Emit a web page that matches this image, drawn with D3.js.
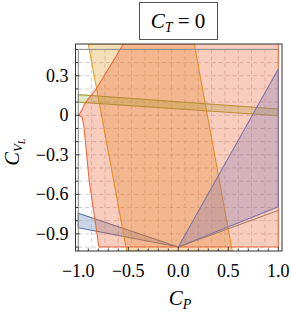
<!DOCTYPE html>
<html>
<head>
<meta charset="utf-8">
<script src="https://cdn.jsdelivr.net/npm/d3@7"></script>
<style>
body { margin: 0; background: #fff; }
</style>
</head>
<body>
<div class="region-graph"></div>
<script>
// regions in (C_P, C_VL) coordinates
var blueRegion   = [[-1, -0.744], [0, -1], [-1, -0.853]];
var orangeRegion = [[-0.9, 0.541], [0.16, 0.541], [0.54, -1.03], [-0.516, -1.03]];
var greenRegion  = [[-1, 0.157], [1, 0.048], [1, -0.003], [-1, 0.100]];
var redRegion    = [[-0.533, 0.56], [-0.816, 0.205], [-0.933, 0.091], [-0.96, 0.045],
                    [-0.997, 0.0], [-0.962, -0.015], [-0.945, -0.074], [-0.89, -0.504],
                    [-0.793, -1.0], [1, -1], [1, 0.56]];
var purpleRegion = [[0, -1], [1, 0.352], [1, -0.694]];
var brownEdge    = [[0, -1], [1, -0.722]];

var xTicks = [-1, -0.5, 0, 0.5, 1];
var xTickLabels = ["\u22121.0", "\u22120.5", "0.0", "0.5", "1.0"];
var yTicks = [-0.9, -0.6, -0.3, 0, 0.3];
var yTickLabels = ["\u22120.9", "\u22120.6", "\u22120.3", "0", "0.3"];

var W = 291, H = 314;
var serif = "'Liberation Serif', 'DejaVu Serif', serif";
var frame = {left: 75.5, right: 282, top: 44, bottom: 251};

var svg = d3.select(".region-graph").append("svg")
    .attr("width", W)
    .attr("height", H)
    .attr("font-family", serif);

var x = d3.scaleLinear().domain([-1.028, 1.037]).range([frame.left, frame.right]);
var y = d3.scaleLinear().domain([-1.03, 0.541]).range([frame.bottom, frame.top]);

svg.append("clipPath").attr("id", "plot-clip")
  .append("rect")
    .attr("x", frame.left).attr("y", frame.top)
    .attr("width", frame.right - frame.left)
    .attr("height", frame.bottom - frame.top);

var plot = svg.append("g").attr("clip-path", "url(#plot-clip)");

// dashed mesh, 15 x 15 cells over the box
var gx = d3.range(16).map(function(i) { return -1 + i * 2 / 15; });
var gy = d3.range(16).map(function(i) { return -1 + i * 0.1; });
var gridColor = "rgba(80,60,60,0.26)";
plot.append("g").selectAll("line")
    .data(gx).enter().append("line")
    .attr("x1", function(d) { return x(d); }).attr("x2", function(d) { return x(d); })
    .attr("y1", y(0.5)).attr("y2", y(-1))
    .attr("stroke", gridColor).attr("stroke-width", 1)
    .attr("stroke-dasharray", "4,3");
plot.append("g").selectAll("line")
    .data(gy).enter().append("line")
    .attr("y1", function(d) { return y(d); }).attr("y2", function(d) { return y(d); })
    .attr("x1", x(-1)).attr("x2", x(1))
    .attr("stroke", gridColor).attr("stroke-width", 1)
    .attr("stroke-dasharray", "4,3");

var line = d3.line()
    .x(function(d) { return x(d[0]); })
    .y(function(d) { return y(d[1]); });

var regions = [
  {pts: blueRegion,   color: "#5E81B5", edge: "#4f6fa8", op: 0.32},
  {pts: orangeRegion, color: "#E19C24", edge: "#e0a020", op: 0.32},
  {pts: greenRegion,  color: "#8FB032", edge: "#a4a43a", op: 0.3},
  {pts: redRegion,    color: "#EB6235", edge: "#ec6a3c", op: 0.32},
  {pts: purpleRegion, color: "#8778B3", edge: "#8074ad", op: 0.32}
];

plot.selectAll("path.region")
    .data(regions)
    .enter().append("path")
    .attr("class", "region")
    .attr("d", function(d) { return line(d.pts) + "Z"; })
    .attr("fill", function(d) { return d.color; })
    .attr("fill-opacity", function(d) { return d.op; })
    .attr("stroke", function(d) { return d.edge; })
    .attr("stroke-width", 1.1)
    .attr("stroke-linejoin", "round");

plot.append("path")
    .attr("d", line(brownEdge))
    .attr("fill", "none")
    .attr("stroke", "#a07a60")
    .attr("stroke-width", 1);

// thin gray box
plot.append("path")
    .attr("d", "M" + x(-1) + "," + y(-1) + "V" + y(0.5) + "H" + x(1))
    .attr("fill", "none")
    .attr("stroke", "#8c8c8c")
    .attr("stroke-width", 1);

// frame
svg.append("rect")
    .attr("x", frame.left).attr("y", frame.top)
    .attr("width", frame.right - frame.left)
    .attr("height", frame.bottom - frame.top)
    .attr("fill", "none")
    .attr("stroke", "#333")
    .attr("stroke-width", 1);

// ticks
var xMinor = d3.range(-10, 11).map(function(i) { return i / 10; });
svg.append("g").selectAll("line")
    .data(xMinor).enter().append("line")
    .attr("x1", function(d) { return x(d); }).attr("x2", function(d) { return x(d); })
    .attr("y1", frame.bottom)
    .attr("y2", function(d) { return frame.bottom - (Math.abs(d * 2 - Math.round(d * 2)) < 1e-6 ? 4 : 2.5); })
    .attr("stroke", "#333");
var yMinor = d3.range(-10, 6).map(function(i) { return i / 10; });
svg.append("g").selectAll("line")
    .data(yMinor).enter().append("line")
    .attr("y1", function(d) { return y(d); }).attr("y2", function(d) { return y(d); })
    .attr("x1", frame.left)
    .attr("x2", function(d) { return frame.left + (Math.abs(d / 0.3 - Math.round(d / 0.3)) < 1e-6 ? 4 : 2.5); })
    .attr("stroke", "#333");

svg.append("g").selectAll("text")
    .data(xTicks).enter().append("text")
    .attr("x", function(d) { return x(d); })
    .attr("y", 277)
    .attr("text-anchor", "middle")
    .attr("font-family", serif)
    .attr("font-size", 18)
    .text(function(d, i) { return xTickLabels[i]; });

svg.append("g").selectAll("text")
    .data(yTicks).enter().append("text")
    .attr("x", 68.5)
    .attr("y", function(d) { return y(d) + 6; })
    .attr("text-anchor", "end")
    .attr("font-family", serif)
    .attr("font-size", 18)
    .text(function(d, i) { return yTickLabels[i]; });

// axis labels
var xl = svg.append("text")
    .attr("x", 180).attr("y", 305)
    .attr("text-anchor", "middle")
    .attr("font-family", serif)
    .attr("font-size", 21);
xl.append("tspan").attr("font-style", "italic").text("C");
xl.append("tspan").attr("font-style", "italic").attr("font-size", 14).attr("dy", 4).text("P");

var yl = svg.append("text")
    .attr("transform", "translate(19,152) rotate(-90)")
    .attr("text-anchor", "middle")
    .attr("font-family", serif)
    .attr("font-size", 20);
yl.append("tspan").attr("font-style", "italic").text("C");
yl.append("tspan").attr("font-style", "italic").attr("font-size", 13).attr("dy", 3).text("V");
yl.append("tspan").attr("font-style", "italic").attr("font-size", 10).attr("dy", 2.5).text("L");

// header box
svg.append("rect")
    .attr("x", 139.5).attr("y", 2.5)
    .attr("width", 78).attr("height", 37)
    .attr("fill", "#fff")
    .attr("stroke", "#555")
    .attr("stroke-width", 1);
var tl = svg.append("text")
    .attr("x", 178).attr("y", 28)
    .attr("text-anchor", "middle")
    .attr("font-family", serif)
    .attr("font-size", 21);
tl.append("tspan").attr("font-style", "italic").text("C");
tl.append("tspan").attr("font-style", "italic").attr("font-size", 14).attr("dy", 4).text("T");
tl.append("tspan").attr("dy", -4).text(" = 0");
</script>
</body>
</html>
